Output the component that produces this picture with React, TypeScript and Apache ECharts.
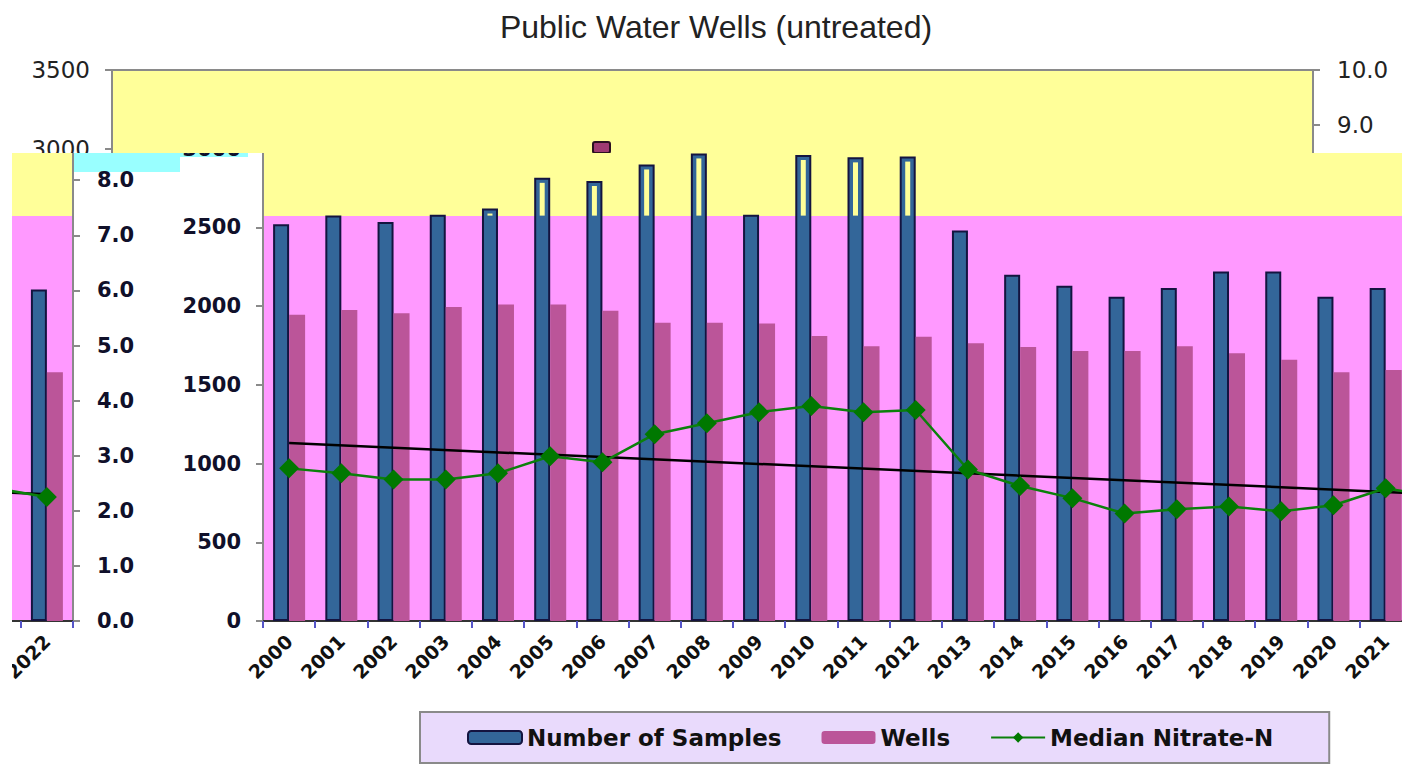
import React, { useEffect, useRef } from "react";
import * as echarts from "echarts";

const YEARS = ["2000", "2001", "2002", "2003", "2004", "2005", "2006", "2007", "2008", "2009", "2010", "2011", "2012", "2013", "2014", "2015", "2016", "2017", "2018", "2019", "2020", "2021", "2022"];
const SAMPLES = [2520, 2575, 2535, 2580, 2620, 2815, 2795, 2900, 2970, 2580, 2960, 2945, 2950, 2480, 2200, 2130, 2060, 2115, 2220, 2220, 2060, 2115, 2105];
const WELLS = [1945, 1975, 1955, 1995, 2010, 2010, 1970, 1895, 1895, 1890, 1810, 1745, 1805, 1765, 1740, 1715, 1715, 1745, 1700, 1660, 1580, 1595, 1580];
const NITRATE = [2.77, 2.68, 2.57, 2.57, 2.68, 2.99, 2.88, 3.39, 3.59, 3.79, 3.9, 3.79, 3.83, 2.75, 2.45, 2.23, 1.95, 2.03, 2.08, 1.99, 2.1, 2.41, 2.25];
const TREND = [["2000", 3.23], ["2022", 2.3]];
const LEFT_MAX = 3500;
const LEFT_STEP = 500;
const RIGHT_MAX = 10;
const RIGHT_STEP = 1;
const BAND_SPLIT = 2575; // value where the plot background turns from pink to yellow

const YELLOW = "#ffff99";
const PINK = "#ff99ff";

type Part = "top" | "main" | "wrap";

function buildOption(part: Part): any {
  const f = 1 - BAND_SPLIT / LEFT_MAX;
  const lowerLabel = {
    fontFamily: "DejaVu Sans",
    fontWeight: "bold",
    fontSize: 21,
    color: "#10102a",
  };
  const topLabel = {
    fontFamily: "DejaVu Sans",
    fontWeight: "normal",
    fontSize: 23,
    color: "#222",
  };
  return {
    animation: false,
    title: {
      show: part === "top",
      text: "Public Water Wells (untreated)",
      left: 711,
      top: 6,
      textAlign: "center",
      textStyle: { fontFamily: "Liberation Sans", fontSize: 32, fontWeight: "normal", color: "#222" },
    },
    legend: {
      show: part === "main",
      data: ["Number of Samples", "Wells", "Median Nitrate-N"],
      left: 269,
      top: 712,
      orient: "horizontal",
      backgroundColor: "#e9dafc",
      borderColor: "#8a8a8a",
      borderWidth: 2,
      borderRadius: 0,
      padding: [14, 56, 14, 47],
      itemGap: 40,
      itemWidth: 54,
      itemHeight: 13,
      textStyle: { fontFamily: "DejaVu Sans", fontWeight: "bold", fontSize: 23, color: "#111" },
    },
    graphic:
      part === "top"
        ? [
            {
              type: "rect",
              shape: { x: 593, y: 142, width: 17, height: 11, r: 2 },
              style: { fill: "#9e3a72", stroke: "#2a1020", lineWidth: 2 },
            },
          ]
        : [],
    grid: {
      left: 112,
      top: 70,
      width: 1201,
      height: 551,
      show: true,
      borderColor: "#8a8a8a",
      borderWidth: 2,
      backgroundColor: new echarts.graphic.LinearGradient(0, 0, 0, 1, [
        { offset: 0, color: YELLOW },
        { offset: f, color: YELLOW },
        { offset: f, color: PINK },
        { offset: 1, color: PINK },
      ]),
    },
    xAxis: {
      type: "category",
      data: YEARS,
      axisLine: { show: true, lineStyle: { color: "#333", width: 2 } },
      axisTick: { show: true, length: 7, lineStyle: { color: "#5555c8", width: 2 } },
      axisLabel: {
        show: part !== "top",
        interval: 0,
        rotate: 45,
        margin: 17,
        fontFamily: "DejaVu Sans",
        fontWeight: "bold",
        fontSize: 19,
        color: "#111",
        formatter: (v: string) => {
          if (part === "wrap") return v === "2022" ? v : "";
          if (part === "main") return v === "2022" ? "" : v;
          return "";
        },
      },
      splitLine: { show: false },
    },
    yAxis: [
      {
        type: "value",
        min: 0,
        max: LEFT_MAX,
        interval: LEFT_STEP,
        axisLine: { show: true, lineStyle: { color: "#8a8a8a", width: 2 } },
        axisTick: { show: true, length: 7, lineStyle: { color: "#8a8a8a", width: 2 } },
        splitLine: { show: false },
        axisLabel: {
          show: part !== "wrap",
          margin: 22,
          ...(part === "top" ? topLabel : lowerLabel),
          formatter: (v: number) => {
            if (part === "top") return v >= 3000 ? String(v) : "";
            return v <= 3000 ? String(v) : "";
          },
        },
      },
      {
        type: "value",
        position: "right",
        min: 0,
        max: RIGHT_MAX,
        interval: RIGHT_STEP,
        axisLine: { show: true, lineStyle: { color: "#8a8a8a", width: 2 } },
        axisTick: { show: true, length: 7, lineStyle: { color: "#8a8a8a", width: 2 } },
        splitLine: { show: false },
        axisLabel: {
          show: part !== "main",
          margin: 24,
          ...(part === "top" ? topLabel : lowerLabel),
          formatter: (v: number) => {
            if (part === "top") return v >= 9 ? v.toFixed(1) : "";
            return v <= 8 ? v.toFixed(1) : "";
          },
        },
      },
    ],
    series: [
      {
        name: "Number of Samples",
        type: "bar",
        data: SAMPLES,
        barWidth: 16,
        barGap: "0%",
        itemStyle: { color: "#336699", borderColor: "#141440", borderWidth: 2 },
        z: 2,
      },
      {
        name: "Wells",
        type: "bar",
        data: WELLS,
        barWidth: 16,
        barGap: "0%",
        itemStyle: { color: "#bb5599" },
        z: 2,
      },
      {
        name: "stripe",
        type: "custom",
        data: SAMPLES.map((v, i) => [i, v]),
        encode: { x: 0, y: 1 },
        z: 3,
        silent: true,
        renderItem: (_p: any, api: any) => {
          const idx = api.value(0);
          const v = api.value(1);
          const top = api.coord([idx, v]);
          const base = api.coord([idx, BAND_SPLIT]);
          const x = top[0] - 8;
          const y1 = top[1] + 5;
          const y2 = base[1];
          if (y2 - y1 < 2) return null;
          return {
            type: "rect",
            shape: { x: x - 2.5, y: y1, width: 5, height: y2 - y1 },
            style: { fill: YELLOW },
          };
        },
      },
      {
        name: "Trend",
        type: "line",
        yAxisIndex: 1,
        data: TREND,
        symbol: "none",
        lineStyle: { color: "#000", width: 2.5 },
        z: 4,
      },
      {
        name: "Median Nitrate-N",
        type: "line",
        yAxisIndex: 1,
        data: NITRATE,
        symbol: "diamond",
        symbolSize: 20,
        lineStyle: { color: "#0b800b", width: 2.5 },
        itemStyle: { color: "#007800" },
        z: 5,
      },
    ],
  };
}

export default function App() {
  const topRef = useRef<HTMLDivElement>(null);
  const mainRef = useRef<HTMLDivElement>(null);
  const wrapRef = useRef<HTMLDivElement>(null);

  useEffect(() => {
    const pairs: [React.RefObject<HTMLDivElement | null>, Part][] = [
      [topRef, "top"],
      [mainRef, "main"],
      [wrapRef, "wrap"],
    ];
    const charts = pairs.map(([r, p]) => {
      const c = echarts.init(r.current as HTMLDivElement, null, { renderer: "svg" });
      c.setOption(buildOption(p));
      return c;
    });
    return () => charts.forEach((c) => c.dispose());
  }, []);

  const chartBox: React.CSSProperties = { position: "absolute", width: 1415, height: 767 };

  return (
    <div style={{ position: "fixed", left: 0, top: 0, width: 1415, height: 767, background: "#fff", overflow: "hidden" }}>
      <div style={{ position: "absolute", left: 70, top: 153, width: 110, height: 19, background: "#99ffff" }} />
      <div style={{ position: "absolute", left: 180, top: 153, width: 68, height: 4, background: "#99ffff" }} />
      <div style={{ position: "absolute", left: 0, top: 0, width: 1415, height: 153, overflow: "hidden" }}>
        <div ref={topRef} style={{ ...chartBox, left: 0, top: 0 }} />
      </div>
      <div style={{ position: "absolute", left: 151, top: 153, width: 1251, height: 614, overflow: "hidden" }}>
        <div ref={mainRef} style={{ ...chartBox, left: 0, top: -153 }} />
      </div>
      <div style={{ position: "absolute", left: 12, top: 153, width: 139, height: 614, overflow: "hidden" }}>
        <div ref={wrapRef} style={{ ...chartBox, left: -1252, top: -153 }} />
      </div>
    </div>
  );
}
